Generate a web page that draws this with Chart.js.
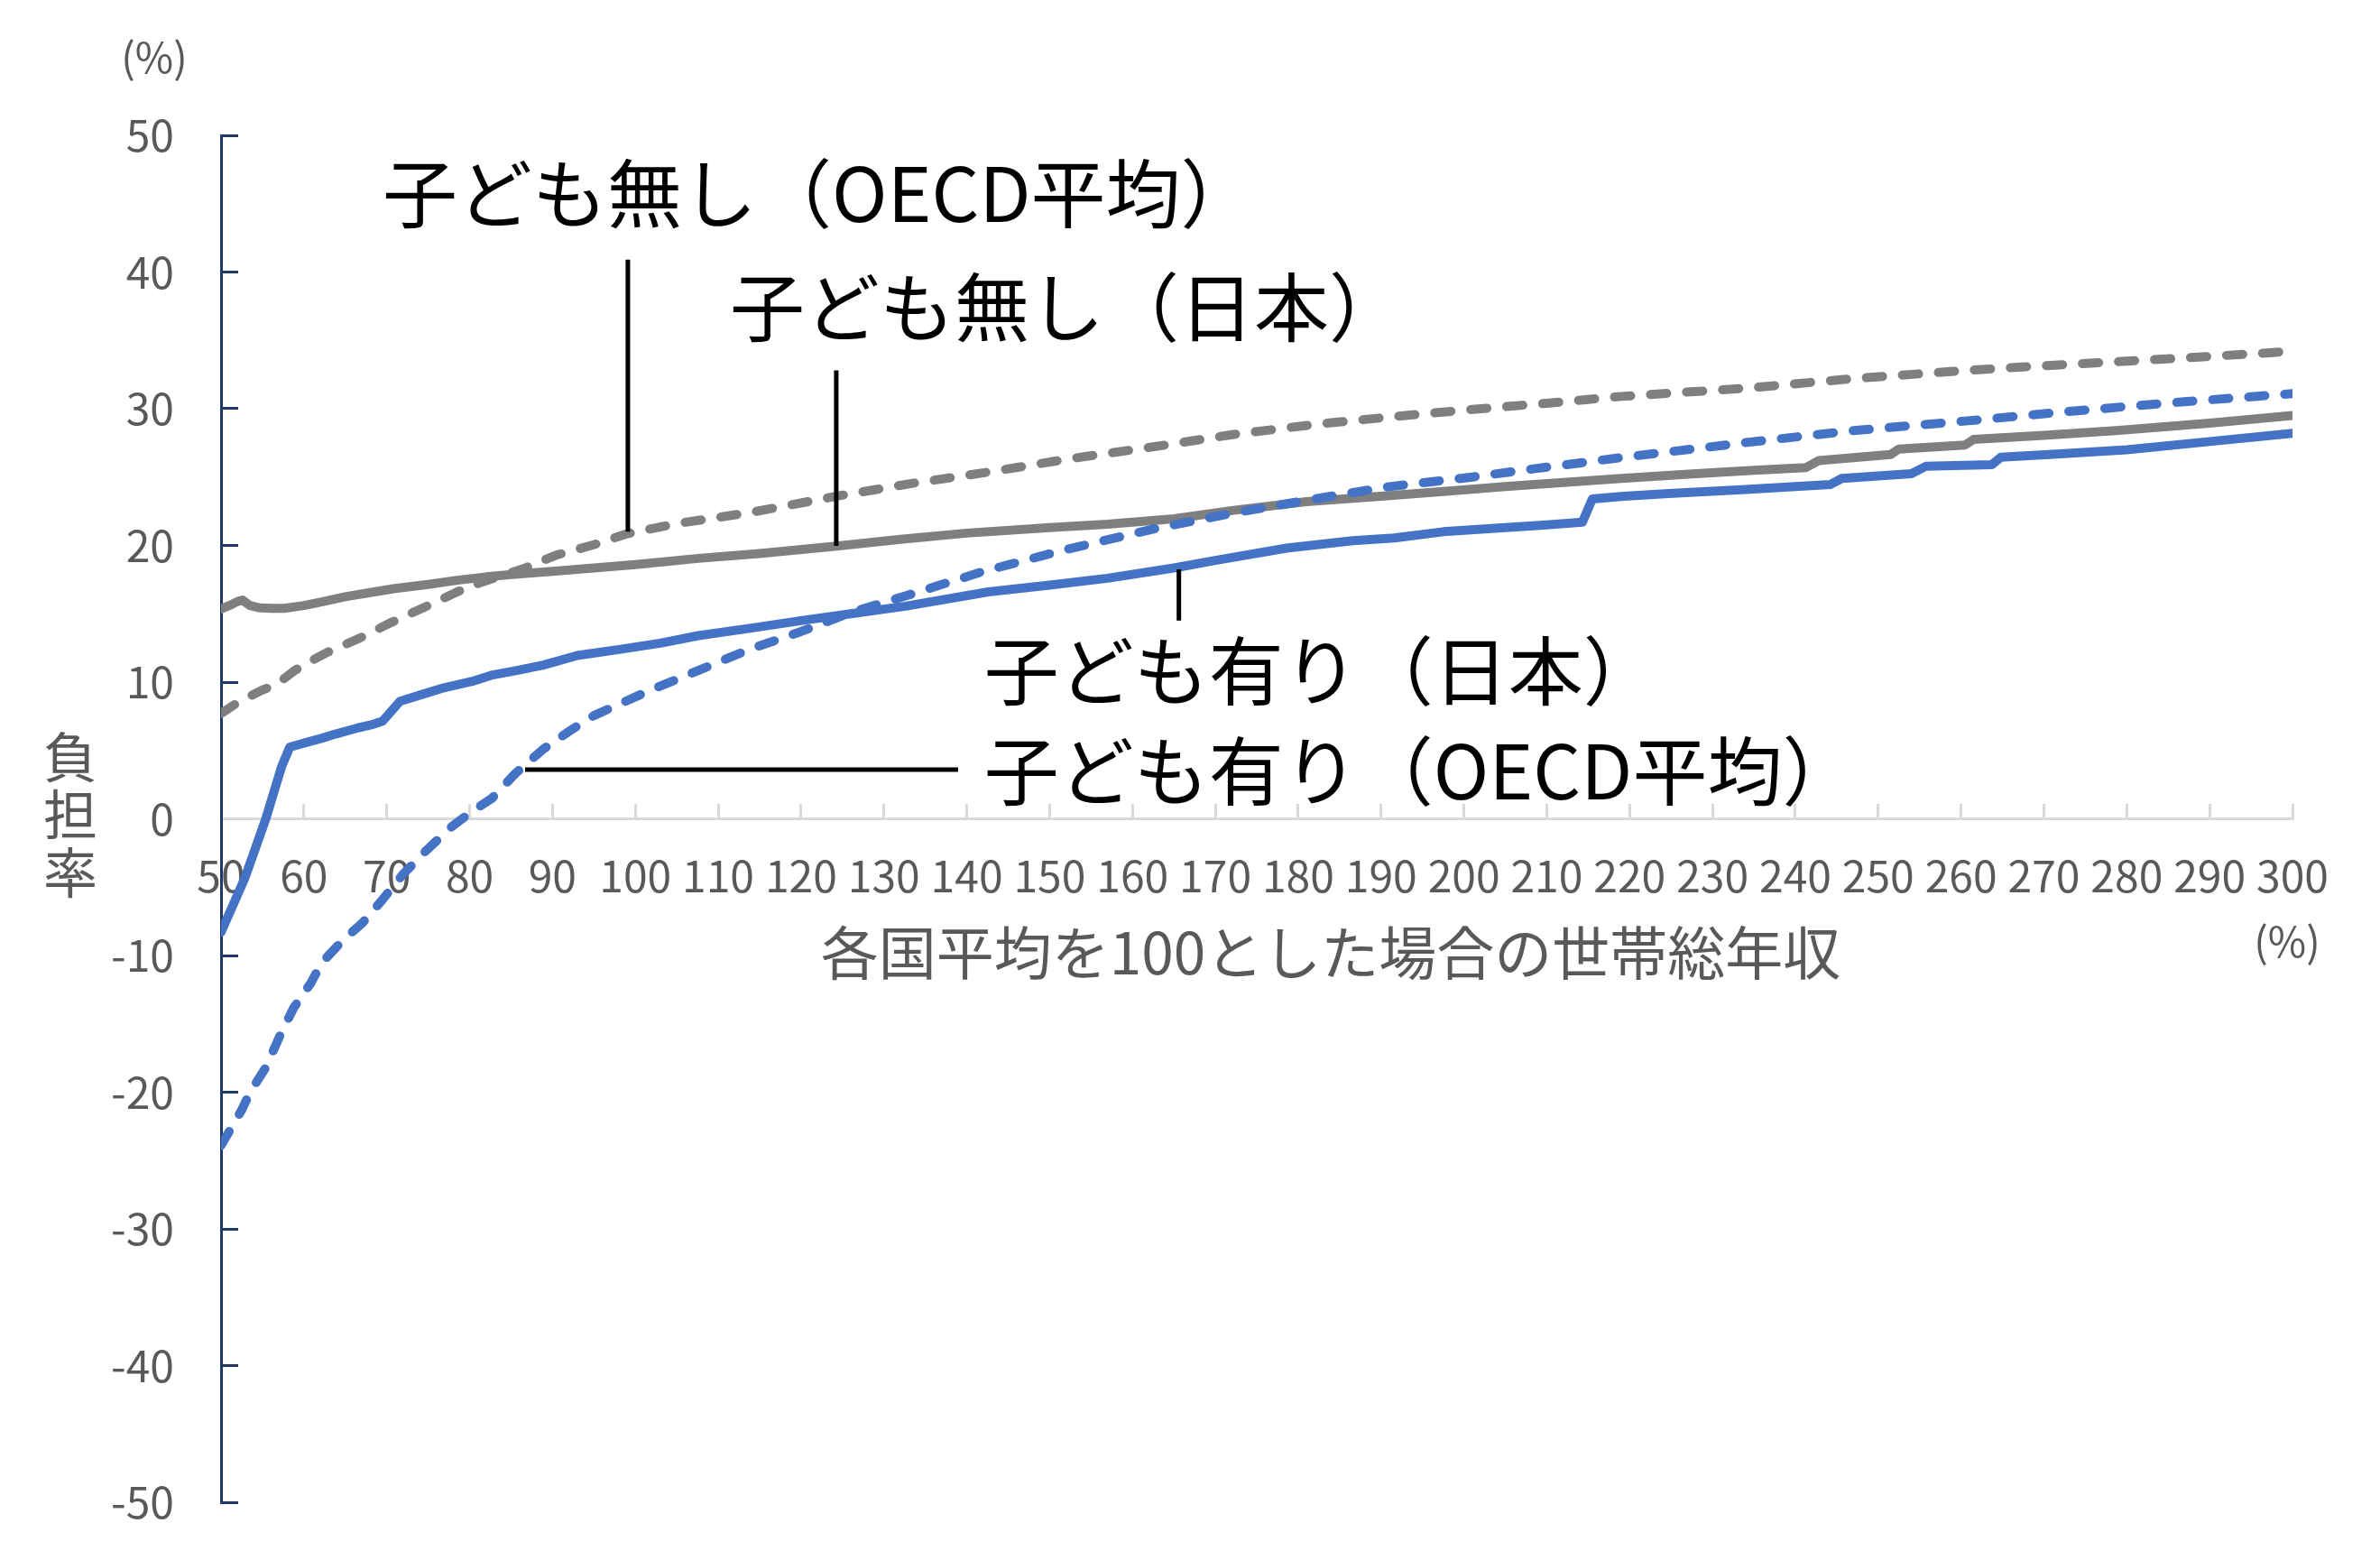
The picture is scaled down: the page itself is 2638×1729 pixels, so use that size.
<!DOCTYPE html>
<html lang="ja">
<head>
<meta charset="utf-8">
<title>子どもの有無別 負担率</title>
<script src="https://cdn.jsdelivr.net/npm/chart.js@4.4.1/dist/chart.umd.min.js"></script>
<style>
  html, body { margin: 0; padding: 0; background: #fff; }
  #wrap { width: 2638px; height: 1729px; position: relative; }
</style>
</head>
<body>
<div id="wrap"><canvas id="chart"></canvas></div>
<script>
const FONT = '"Noto Sans CJK JP", "Noto Sans", sans-serif';
const GREY = '#7f7f7f';
const BLUE = '#4472c4';
const TEXT = '#595959';
const NAVY = '#1f3864';

// 子ども無し（日本）
const noChildJpX = [50, 51, 52, 52.6, 53.5, 54.5, 56, 57.6, 60, 62, 65, 68, 71, 75, 78.5, 82, 85.7, 90, 95, 100,
  107.6, 115, 124.3, 132, 140, 150, 157, 165, 172, 181, 190, 197.5, 205, 212, 219, 228, 235, 241.3, 242.8, 251.5,
  252.5, 260.5, 261.5, 270, 278.7, 290, 300];
const noChildJpY = [15.35, 15.6, 15.9, 16.0, 15.6, 15.45, 15.4, 15.4, 15.6, 15.85, 16.25, 16.55, 16.85, 17.15, 17.45,
  17.7, 17.9, 18.1, 18.35, 18.6, 19.05, 19.4, 19.95, 20.45, 20.9, 21.3, 21.55, 21.95, 22.55, 23.2, 23.6, 23.95, 24.3,
  24.6, 24.9, 25.25, 25.5, 25.7, 26.2, 26.65, 27.05, 27.35, 27.75, 28.05, 28.4, 28.95, 29.5];

// 子ども無し（OECD平均）
const noChildOecdX = [50, 52, 54.9, 56.7, 58.9, 60.7, 62.9, 66.5, 70.5, 74.8, 78.5, 81.4, 86.5, 90.5, 95, 99, 105,
  113.8, 124.3, 133, 143, 152, 163.5, 172, 182, 192, 201, 210, 219, 234, 247, 260.5, 273, 286.6, 300];
const noChildOecdY = [7.7, 8.5, 9.4, 9.85, 10.85, 11.5, 12.2, 13.15, 14.35, 15.55, 16.6, 17.3, 18.3, 19.3, 20.05,
  20.85, 21.6, 22.4, 23.6, 24.5, 25.4, 26.3, 27.3, 28.1, 28.85, 29.45, 29.95, 30.4, 30.9, 31.5, 32.2, 32.8, 33.25,
  33.7, 34.2];

// 子ども有り（日本）
const withChildJpX = [50, 52.9, 55.4, 57.3, 58.3, 60.7, 62.2, 63.8, 66.5, 68, 69.5, 71.6, 74.8, 77, 80.3, 82.6, 85.7,
  88.9, 93, 98.2, 103, 107.6, 114, 120, 126, 132.6, 142.6, 150, 157, 165, 170, 178.6, 186.6, 191.6, 197.5, 205, 210,
  214.3, 215.5, 219.3, 224.7, 234, 244.2, 245.6, 254, 255.8, 263.7, 264.8, 272, 280, 290, 300];
const withChildJpY = [-8.3, -4.3, 0, 3.8, 5.25, 5.65, 5.9, 6.2, 6.65, 6.85, 7.15, 8.6, 9.2, 9.6, 10.05, 10.5, 10.85,
  11.25, 11.95, 12.4, 12.85, 13.4, 13.95, 14.5, 15.0, 15.55, 16.6, 17.1, 17.6, 18.35, 18.9, 19.8, 20.35, 20.55, 21.0,
  21.3, 21.5, 21.7, 23.4, 23.6, 23.8, 24.1, 24.45, 24.9, 25.25, 25.8, 25.9, 26.45, 26.7, 27.0, 27.6, 28.2];

// 子ども有り（OECD平均）
const withChildOecdX = [50, 52.5, 53.5, 55.4, 57.3, 58.8, 60.8, 62.2, 64.6, 67.1, 69.5, 71.9, 74.8, 77.8, 80.2, 82.7,
  85.5, 88.9, 92, 95, 101.4, 107.6, 113.8, 120, 126.3, 132.6, 142, 152, 162.5, 172, 182, 191, 201, 208.4, 219.3,
  234.4, 247, 260.5, 273, 286.6, 300];
const withChildOecdY = [-23.9, -21.3, -20.0, -18.2, -15.6, -13.8, -12.05, -10.5, -8.95, -7.6, -5.9, -4.1, -2.3, -0.6,
  0.5, 1.5, 3.3, 5.1, 6.4, 7.55, 9.3, 10.85, 12.4, 13.7, 15.15, 16.3, 18.1, 19.7, 21.2, 22.35, 23.4, 24.3, 25.0, 25.6,
  26.45, 27.55, 28.4, 29.1, 29.8, 30.5, 31.1];

const X_MIN = 50, X_MAX = 300, X_STEP = 10;
const Y_MIN = -50, Y_MAX = 50, Y_STEP = 10;

const xTitle = '各国平均を100とした場合の世帯総年収';
const yTitle = ['負', '担', '率'];
const unitLabel = '(%)';

// callout labels, anchored in data units
const callouts = [
  { text: '子ども無し（OECD平均）', at: [69.5, 43.66], from: [99.1, 40.9], to: [99.1, 21.0] },
  { text: '子ども無し（日本）', at: [111.4, 35.35], from: [124.25, 32.8], to: [124.25, 19.97] },
  { text: '子ども有り（日本）', at: [142.1, 8.75], from: [165.6, 18.25], to: [165.6, 14.5] },
  { text: '子ども有り（OECD平均）', at: [142.1, 1.42], from: [86.7, 3.6], to: [138.95, 3.6] },
];

const toPoints = (xs, ys) => xs.map((x, i) => ({ x, y: ys[i] }));

function series(label, xs, ys, color, dashed) {
  return {
    label,
    data: toPoints(xs, ys),
    borderColor: color,
    backgroundColor: color,
    borderWidth: 10,
    borderDash: dashed ? [18, 22] : [],
    borderCapStyle: 'round',
    borderJoinStyle: 'round',
    pointRadius: 0,
    tension: 0,
    fill: false,
    order: dashed ? 1 : 2,
  };
}

const overlay = {
  id: 'overlay',
  afterDatasetsDraw(chart) {
    const { ctx, scales: { x, y } } = chart;
    ctx.save();

    ctx.strokeStyle = '#000';
    ctx.lineWidth = 5;
    ctx.fillStyle = '#000';
    ctx.font = `83px ${FONT}`;
    ctx.textAlign = 'left';
    ctx.textBaseline = 'alphabetic';
    callouts.forEach((c) => {
      ctx.beginPath();
      ctx.moveTo(x.getPixelForValue(c.from[0]), y.getPixelForValue(c.from[1]));
      ctx.lineTo(x.getPixelForValue(c.to[0]), y.getPixelForValue(c.to[1]));
      ctx.stroke();
      ctx.fillText(c.text, x.getPixelForValue(c.at[0]), y.getPixelForValue(c.at[1]));
    });

    ctx.fillStyle = TEXT;
    ctx.textAlign = 'center';
    ctx.font = `64px ${FONT}`;
    ctx.fillText(xTitle, 1475, 1080);

    ctx.font = `60px ${FONT}`;
    yTitle.forEach((ch, i) => ctx.fillText(ch, 78, 862 + i * 64));

    ctx.font = `46px ${FONT}`;
    ctx.fillText(unitLabel, 171, 81);
    ctx.fillText(unitLabel, 2535, 1061);

    ctx.restore();
  },
};

new Chart(document.getElementById('chart'), {
  type: 'line',
  data: {
    datasets: [
      series('子ども無し（日本）', noChildJpX, noChildJpY, GREY, false),
      series('子ども有り（日本）', withChildJpX, withChildJpY, BLUE, false),
      series('子ども無し（OECD平均）', noChildOecdX, noChildOecdY, GREY, true),
      series('子ども有り（OECD平均）', withChildOecdX, withChildOecdY, BLUE, true),
    ],
  },
  options: {
    responsive: true,
    maintainAspectRatio: false,
    animation: false,
    layout: { padding: { top: 150, right: 97, bottom: 64, left: 0 } },
    plugins: {
      legend: { display: false },
      tooltip: { enabled: false },
    },
    scales: {
      x: {
        type: 'linear',
        position: { y: 0 },
        min: X_MIN,
        max: X_MAX,
        afterFit: (scale) => { scale.height = 0; },
        grid: { drawOnChartArea: false, tickLength: -18, tickColor: '#d9d9d9', tickWidth: 3 },
        border: { color: '#d9d9d9', width: 3 },
        ticks: {
          stepSize: X_STEP,
          autoSkip: false,
          maxRotation: 0,
          padding: 52,
          color: TEXT,
          font: { family: FONT, size: 48 },
        },
      },
      y: {
        type: 'linear',
        position: 'left',
        min: Y_MIN,
        max: Y_MAX,
        afterFit: (scale) => {
          scale.width = 245;
          // keep the label overhang from pushing the plot area in
          scale.paddingTop = 0;
          scale.paddingBottom = 0;
        },
        grid: { drawOnChartArea: false, tickLength: -19, tickColor: NAVY, tickWidth: 3 },
        border: { color: NAVY, width: 3 },
        ticks: {
          stepSize: Y_STEP,
          padding: 71,
          color: TEXT,
          font: { family: FONT, size: 48 },
        },
      },
    },
  },
  plugins: [overlay],
});
</script>
</body>
</html>
